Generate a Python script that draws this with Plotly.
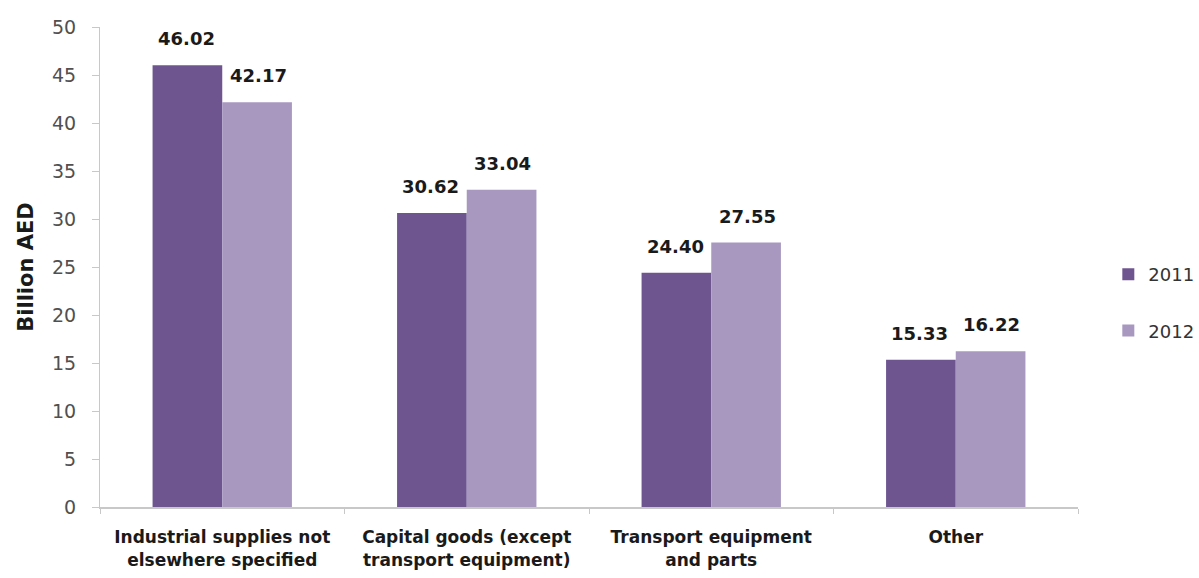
import plotly.graph_objects as go

categories = [
    "Industrial supplies not<br>elsewhere specified",
    "Capital goods (except<br>transport equipment)",
    "Transport equipment<br>and parts",
    "Other",
]
values_2011 = [46.02, 30.62, 24.40, 15.33]
values_2012 = [42.17, 33.04, 27.55, 16.22]
y_ticks = list(range(0, 51, 5))

color_2011 = "#6E5590"
color_2012 = "#A898C0"
font_family = "'DejaVu Sans', Verdana, sans-serif"

fig = go.Figure()
fig.add_trace(go.Bar(name="2011", x=categories, y=values_2011,
                     marker=dict(color=color_2011, line=dict(width=0)),
                     legendgroup="a"))
fig.add_trace(go.Bar(name="2012", x=categories, y=values_2012,
                     marker=dict(color=color_2012, line=dict(width=0)),
                     legendgroup="b"))

# value labels above each bar
for vals, shift in ((values_2011, -36), (values_2012, 36)):
    for cat, v in zip(categories, vals):
        fig.add_annotation(x=cat, y=v, text=f"<b>{v:.2f}</b>", showarrow=False,
                           xshift=shift, yshift=14, yanchor="bottom",
                           font=dict(family=font_family, size=18, color="#1a1a1a"))

fig.update_layout(
    width=1199, height=578,
    margin=dict(l=100, r=121, t=27, b=71, autoexpand=False),
    paper_bgcolor="white", plot_bgcolor="white",
    barmode="group", bargap=0.43, bargroupgap=0,
    font=dict(family=font_family, color="#404040"),
    legend=dict(x=1.031, y=0.426, xanchor="left", yanchor="middle",
                font=dict(size=18, color="#333333"), tracegroupgap=30,
                bgcolor="rgba(0,0,0,0)"),
    showlegend=True,
)
fig.update_xaxes(showline=True, linecolor="#C8C8C8", linewidth=2,
                 ticks="outside", tickson="boundaries", ticklen=5,
                 tickcolor="#C8C8C8", showgrid=False, ticklabelstandoff=14,
                 tickfont=dict(size=17, color="#1a1a1a", family=font_family),
                 tickprefix="<b>", ticksuffix="</b>")
fig.update_yaxes(range=[0, 50], tickvals=y_ticks, showline=True,
                 linecolor="#C8C8C8", linewidth=1, ticks="outside", ticklen=7,
                 tickcolor="#C8C8C8", showgrid=False, zeroline=False,
                 ticklabelstandoff=12,
                 tickfont=dict(size=19, color="#505050"),
                 title=dict(text="<b>Billion AED</b>", standoff=12,
                            font=dict(size=21, color="#1a1a1a")))

fig.write_html("out.html")
